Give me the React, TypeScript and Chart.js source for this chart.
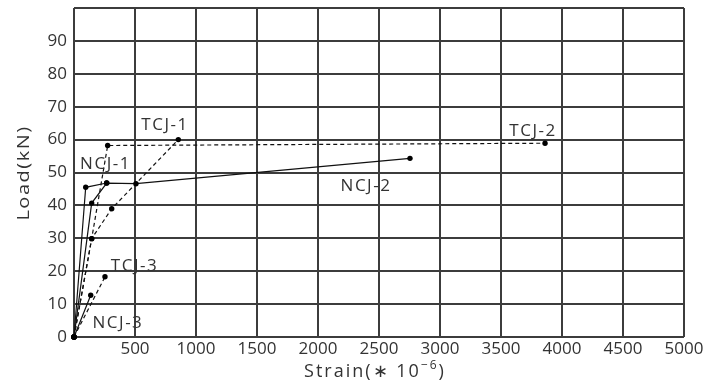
import React, { useEffect, useRef } from "react";
import { Chart, registerables } from "chart.js";

Chart.register(...registerables);

// Strain (×10^-6) and Load (kN)
const ncj1Strain = [0, 96, 268];
const ncj1Load = [0, 45.5, 46.8];
const ncj2Strain = [0, 145, 268, 508, 2754];
const ncj2Load = [0, 40.7, 46.8, 46.6, 54.3];
const ncj3Strain = [0, 137];
const ncj3Load = [0, 12.7];
const tcj1Strain = [0, 145, 309, 855];
const tcj1Load = [0, 29.9, 39.0, 60.0];
const tcj2Strain = [0, 145, 276, 3861];
const tcj2Load = [0, 29.9, 58.2, 58.9];
const tcj3Strain = [0, 254];
const tcj3Load = [0, 18.3];

// series labels and where they sit (data units)
const labelTexts = ["TCJ-1", "NCJ-1", "TCJ-3", "NCJ-3", "TCJ-2", "NCJ-2"];
const labelStrain = [738, 250, 488, 352, 3754, 2385];
const labelLoad = [64.5, 52.4, 21.5, 4.2, 62.7, 46];

const xMin = 0;
const xMax = 5000;
const xStep = 500;
const yMin = 0;
const yMax = 100;
const yStep = 10;

const FONT = "'Open Sans', 'Noto Sans', sans-serif";
const TEXT = "#333";

const pts = (xs: number[], ys: number[]) => xs.map((x, i) => ({ x, y: ys[i] }));

const textPlugin = {
  id: "texts",
  afterDraw(chart: any) {
    const { ctx, scales, chartArea } = chart;
    const xs = scales.x;
    const ys = scales.y;
    ctx.save();
    ctx.fillStyle = TEXT;
    ctx.font = `17px ${FONT}`;
    (ctx as any).letterSpacing = "1.5px";
    ctx.textAlign = "center";
    ctx.textBaseline = "middle";
    labelTexts.forEach((t, i) => {
      ctx.fillText(t, xs.getPixelForValue(labelStrain[i]) + 1, ys.getPixelForValue(labelLoad[i]));
    });

    // y title (condensed look)
    ctx.save();
    ctx.translate(24, 173);
    ctx.rotate(-Math.PI / 2);
    ctx.scale(1, 0.8);
    ctx.font = `20px ${FONT}`;
    (ctx as any).letterSpacing = "1.5px";
    ctx.fillText("Load(kN)", 0, 0);
    ctx.restore();

    // x title with superscript
    (ctx as any).letterSpacing = "2px";
    const base = `18px ${FONT}`;
    const sup = `12px ${FONT}`;
    const p1 = "Strain(\u2217 10";
    const p2 = "\u22126";
    const p3 = ")";
    ctx.font = base;
    const w1 = ctx.measureText(p1).width;
    const w3 = ctx.measureText(p3).width;
    ctx.font = sup;
    const w2 = ctx.measureText(p2).width;
    const total = w1 + w2 + w3;
    const cx = 375;
    let x = cx - total / 2;
    const y = 372;
    ctx.textAlign = "left";
    ctx.font = base;
    ctx.fillText(p1, x, y);
    x += w1;
    ctx.font = sup;
    ctx.fillText(p2, x, y - 6);
    x += w2;
    ctx.font = base;
    ctx.fillText(p3, x, y);
    ctx.restore();
  },
};

export default function App() {
  const ref = useRef<HTMLCanvasElement>(null);
  useEffect(() => {
    const canvas = ref.current!;
    const common = {
      borderColor: "#111",
      borderWidth: 1.2,
      pointRadius: 2.7,
      pointBackgroundColor: "#000",
      pointBorderColor: "#000",
      pointBorderWidth: 0,
      showLine: true,
      fill: false,
      clip: false as any,
    };
    const dash = { ...common, borderDash: [4, 3] };
    const chart = new Chart(canvas, {
      type: "scatter",
      data: {
        datasets: [
          { ...common, label: "NCJ-1", data: pts(ncj1Strain, ncj1Load) },
          { ...common, label: "NCJ-2", data: pts(ncj2Strain, ncj2Load) },
          { ...common, label: "NCJ-3", data: pts(ncj3Strain, ncj3Load) },
          { ...dash, label: "TCJ-1", data: pts(tcj1Strain, tcj1Load) },
          { ...dash, label: "TCJ-2", data: pts(tcj2Strain, tcj2Load) },
          { ...dash, label: "TCJ-3", data: pts(tcj3Strain, tcj3Load) },
        ],
      },
      options: {
        animation: false,
        responsive: false,
        layout: { padding: { top: 8, right: 19, left: 0, bottom: 0 } },
        plugins: { legend: { display: false }, tooltip: { enabled: false } },
        scales: {
          x: {
            type: "linear",
            min: xMin,
            max: xMax,
            ticks: {
              stepSize: xStep,
              autoSkip: false,
              maxRotation: 0,
              color: TEXT,
              font: { family: FONT, size: 17 },
              padding: 2,
              callback: (v: any) => (v === 0 ? "" : String(v)),
            },
            grid: { color: "#3c3c3c", lineWidth: 2, drawTicks: false },
            border: { display: false },
            afterFit: (s: any) => {
              s.height = 46;
              s.paddingLeft = 0;
              s.paddingRight = 0;
            },
          },
          y: {
            type: "linear",
            min: yMin,
            max: yMax,
            ticks: {
              stepSize: yStep,
              color: TEXT,
              font: { family: FONT, size: 17 },
              padding: 7,
              callback: (v: any) => (v === yMax ? "" : String(v)),
            },
            grid: { color: "#3c3c3c", lineWidth: 2, drawTicks: false },
            border: { display: false },
            afterFit: (s: any) => {
              s.width = 74;
              s.paddingTop = 0;
              s.paddingBottom = 0;
            },
          },
        },
      } as any,
      plugins: [textPlugin],
    });
    return () => chart.destroy();
  }, []);
  return (
    <div style={{ position: "fixed", left: 0, top: 0, width: 703, height: 383, background: "#fff" }}>
      <canvas ref={ref} width={703} height={383} />
    </div>
  );
}
